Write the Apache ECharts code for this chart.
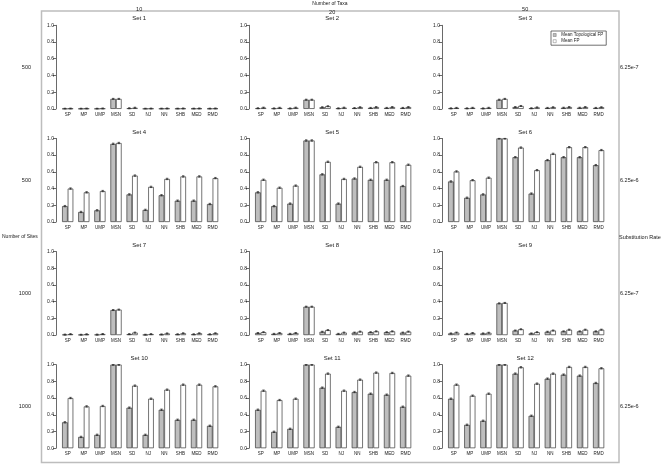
<!DOCTYPE html>
<html><head><meta charset="utf-8">
<script src="https://cdn.jsdelivr.net/npm/echarts@6/dist/echarts.min.js"></script>
<style>html,body{margin:0;padding:0;background:#fff}#c{width:661px;height:465px}</style>
</head><body><div id="c"></div>
<script>
const categories = ['SP','MP','UMP','MSN','SD','NJ','NN','SHB','MED','RMD'];
const setTitles = ['Set 1','Set 2','Set 3','Set 4','Set 5','Set 6','Set 7','Set 8','Set 9','Set 10','Set 11','Set 12'];
const taxaLabels = ['10','20','50'];
const sitesLabels = ['500','500','1000','1000'];
const rateLabels = ['6.25e-7','6.25e-6','6.25e-7','6.25e-6'];
const seriesNames = ['Mean Topological FP','Mean FP'];

const set1Topo = [0.002,0.002,0.002,0.12,0.008,0.002,0.003,0.003,0.003,0.003];
const set1FP   = [0.004,0.004,0.005,0.12,0.014,0.004,0.005,0.005,0.005,0.005];
const set2Topo = [0.008,0.006,0.006,0.11,0.02,0.007,0.01,0.012,0.012,0.012];
const set2FP   = [0.015,0.013,0.015,0.11,0.032,0.015,0.02,0.022,0.022,0.022];
const set3Topo = [0.007,0.007,0.006,0.11,0.022,0.008,0.012,0.014,0.014,0.012];
const set3FP   = [0.012,0.013,0.013,0.12,0.035,0.018,0.02,0.022,0.022,0.02];
const set4Topo = [0.19,0.12,0.14,0.935,0.33,0.145,0.32,0.255,0.255,0.215];
const set4FP   = [0.40,0.355,0.37,0.945,0.555,0.42,0.515,0.545,0.545,0.525];
const set5Topo = [0.355,0.19,0.22,0.975,0.57,0.22,0.52,0.505,0.505,0.43];
const set5FP   = [0.505,0.41,0.435,0.975,0.72,0.515,0.66,0.715,0.715,0.685];
const set6Topo = [0.485,0.29,0.33,1.0,0.775,0.34,0.74,0.775,0.775,0.68];
const set6FP   = [0.605,0.50,0.53,1.0,0.89,0.62,0.815,0.895,0.895,0.86];
const set7Topo = [0.006,0.004,0.006,0.30,0.012,0.004,0.008,0.01,0.01,0.01];
const set7FP   = [0.012,0.01,0.013,0.305,0.03,0.012,0.02,0.022,0.022,0.022];
const set8Topo = [0.025,0.015,0.015,0.34,0.04,0.015,0.03,0.035,0.035,0.03];
const set8FP   = [0.035,0.025,0.025,0.34,0.06,0.03,0.042,0.045,0.045,0.042];
const set9Topo = [0.02,0.015,0.02,0.38,0.055,0.02,0.04,0.045,0.045,0.045];
const set9FP   = [0.03,0.025,0.028,0.385,0.07,0.035,0.055,0.065,0.065,0.065];
const set10Topo = [0.31,0.135,0.16,1.0,0.485,0.16,0.46,0.34,0.34,0.268];
const set10FP   = [0.60,0.50,0.505,1.0,0.748,0.592,0.70,0.76,0.76,0.74];
const set11Topo = [0.46,0.196,0.232,1.0,0.724,0.256,0.672,0.652,0.64,0.496];
const set11FP   = [0.688,0.576,0.592,1.0,0.892,0.688,0.82,0.904,0.90,0.868];
const set12Topo = [0.592,0.28,0.328,1.0,0.892,0.388,0.832,0.88,0.868,0.78];
const set12FP   = [0.76,0.628,0.652,1.0,0.968,0.772,0.892,0.972,0.972,0.956];

const errTopo = [0.006,0.006,0.006,0.008,0.008,0.008,0.006,0.006,0.006,0.008,0.008,0.008];
const errFP   = [0.006,0.006,0.006,0.008,0.008,0.008,0.006,0.006,0.006,0.008,0.008,0.008];

const topoSets = [set1Topo,set2Topo,set3Topo,set4Topo,set5Topo,set6Topo,set7Topo,set8Topo,set9Topo,set10Topo,set11Topo,set12Topo];
const fpSets = [set1FP,set2FP,set3FP,set4FP,set5FP,set6FP,set7FP,set8FP,set9FP,set10FP,set11FP,set12FP];

const FONT = '"Liberation Sans", Arial, Helvetica, sans-serif';
const TXT = '#1a1a1a';
const colX0 = 59.65, colStep = 193, gridW = 161;
const rowY0 = 25.3, rowStep = 113.1, gridH = 83.6;
const BW = 5.6;

const grids = [], xAxes = [], yAxes = [], series = [], graphics = [];

graphics.push({type:'rect', silent:true, z:-10,
  shape:{x:41.5, y:11, width:577.5, height:451.5},
  style:{fill:'transparent', stroke:'#bdbdbd', lineWidth:1.5}});

function txt(text, x, y, size, align){
  graphics.push({type:'text', silent:true, x:x, y:y,
    style:{text:text, fontSize:size, fontFamily:FONT, fill:TXT,
      align:align||'center', verticalAlign:'middle',
      textAlign:align||'center', textVerticalAlign:'middle'}});
}

for (let i = 0; i < 12; i++) {
  const r = Math.floor(i/3), c = i % 3;
  const left = colX0 + c*colStep, top = rowY0 + r*rowStep;
  grids.push({left:left, top:top, width:gridW, height:gridH, containLabel:false});
  xAxes.push({type:'category', gridIndex:i, data:categories,
    axisLine:{show:false}, axisTick:{show:false}, splitLine:{show:false},
    axisLabel:{interval:0, fontSize:4.5, margin:3, color:TXT, fontFamily:FONT}});
  yAxes.push({type:'value', gridIndex:i, min:0, max:1, interval:0.2, offset:3.65,
    axisLine:{show:true, lineStyle:{color:'#444', width:0.8}},
    axisTick:{show:true, length:3, lineStyle:{color:'#444', width:0.8}},
    splitLine:{show:false},
    axisLabel:{fontSize:5, margin:2, color:TXT, fontFamily:FONT, formatter:v=>v.toFixed(1)}});
  series.push({type:'bar', name:seriesNames[0], xAxisIndex:i, yAxisIndex:i,
    data:topoSets[i], barWidth:BW, barGap:'0%', silent:true,
    itemStyle:{color:'#bebebe', borderColor:'#3a3a3a', borderWidth:0.7}});
  series.push({type:'bar', name:seriesNames[1], xAxisIndex:i, yAxisIndex:i,
    data:fpSets[i], barWidth:BW, barGap:'0%', silent:true,
    itemStyle:{color:'#ffffff', borderColor:'#3a3a3a', borderWidth:0.7}});
  const errData = [];
  for (let k = 0; k < categories.length; k++) {
    errData.push([k, topoSets[i][k], errTopo[i], -1]);
    errData.push([k, fpSets[i][k], errFP[i], 1]);
  }
  series.push({type:'custom', xAxisIndex:i, yAxisIndex:i, silent:true, z:5,
    data:errData, encode:{x:0, y:1},
    renderItem:(params, api) => {
      const idx = api.value(0), v = api.value(1), e = api.value(2), side = api.value(3);
      const hi = Math.min(1, v + e), lo = Math.max(0, v - e);
      const pTop = api.coord([idx, hi]), pBot = api.coord([idx, lo]);
      const x = pTop[0] + side * BW / 2;
      const hw = 1.2;
      const st = {stroke:'#222', lineWidth:0.7};
      return {type:'group', children:[
        {type:'line', shape:{x1:x, y1:pTop[1], x2:x, y2:pBot[1]}, style:st},
        {type:'line', shape:{x1:x-hw, y1:pTop[1], x2:x+hw, y2:pTop[1]}, style:st},
        {type:'line', shape:{x1:x-hw, y1:pBot[1], x2:x+hw, y2:pBot[1]}, style:st}
      ]};
    }});
  txt(setTitles[i], left + gridW/2 - 1, top - 6.5, 6);
}

txt('Number of Taxa', 330, 4, 5);
const taxaY = [9.5, 12.5, 9.5];
for (let c = 0; c < 3; c++) txt(taxaLabels[c], colX0 + c*colStep + gridW/2 - 1, taxaY[c], 5.5);
for (let r = 0; r < 4; r++) {
  const cy = rowY0 + r*rowStep + gridH/2;
  txt(sitesLabels[r], 31, cy, 5.5, 'right');
  txt(rateLabels[r], 620, cy, 5.5, 'left');
}
txt('Number of Sites', 2, 237, 5, 'left');
txt('Substitution Rate', 619, 237.5, 5.5, 'left');

const chart = echarts.init(document.getElementById('c'), null, {renderer:'canvas'});
chart.setOption({
  animation:false,
  backgroundColor:'#ffffff',
  grid:grids, xAxis:xAxes, yAxis:yAxes, series:series,
  legend:{orient:'vertical', left:551, top:31,
    data:[
      {name:seriesNames[0], itemStyle:{color:'#bebebe', borderColor:'#555', borderWidth:0.4}},
      {name:seriesNames[1], itemStyle:{color:'#ffffff', borderColor:'#555', borderWidth:0.4}}
    ],
    itemWidth:3, itemHeight:3, itemGap:1.2, icon:'rect', selectedMode:false,
    padding:[1.5,3,1.5,2], borderColor:'#333', borderWidth:0.7,
    textStyle:{fontSize:4.5, fontFamily:FONT, color:TXT}},
  graphic:{elements:graphics}
});
</script></body></html>
